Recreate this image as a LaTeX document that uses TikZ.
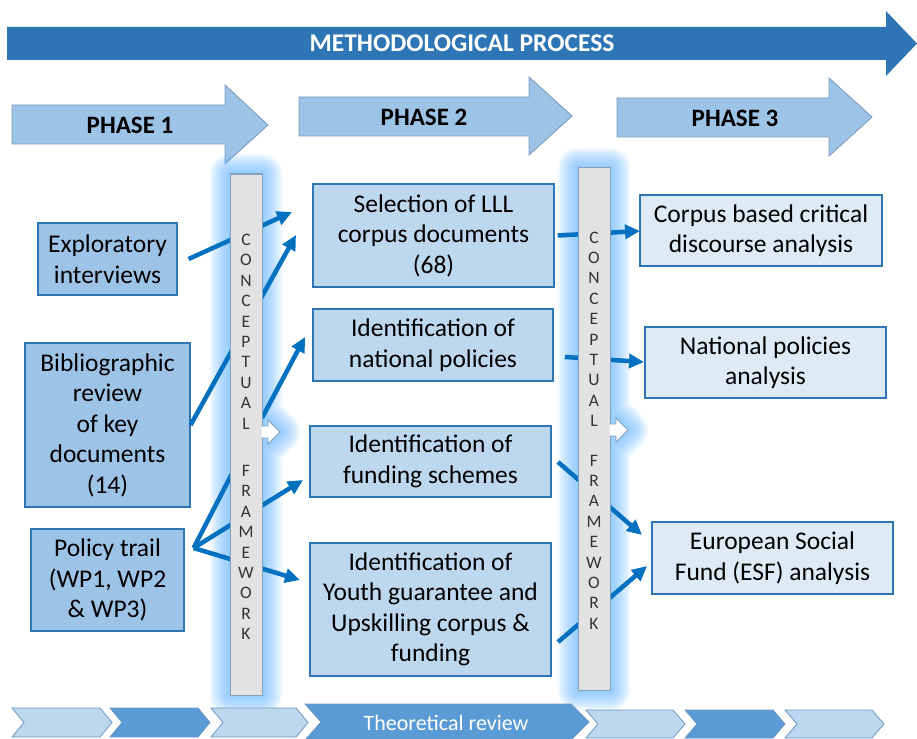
\documentclass[tikz,border=0pt]{standalone}
\usepackage{fontspec}
\setmainfont{Carlito}
\usetikzlibrary{arrows.meta}
\definecolor{topblue}{RGB}{46,117,182}
\definecolor{phasefill}{RGB}{157,195,230}
\definecolor{phaseline}{RGB}{125,156,192}
\definecolor{leftfill}{RGB}{157,195,230}
\definecolor{midfill}{RGB}{189,215,238}
\definecolor{rightfill}{RGB}{222,235,247}
\definecolor{boxline}{RGB}{46,117,182}
\definecolor{connblue}{RGB}{0,112,192}
\definecolor{barfill}{RGB}{226,226,226}
\definecolor{barline}{RGB}{130,160,190}
\definecolor{glowblue}{RGB}{100,180,255}
\definecolor{chevlight}{RGB}{189,215,238}
\definecolor{chevdark}{RGB}{91,155,213}
\definecolor{chevline}{RGB}{110,150,195}
\begin{document}
\begin{tikzpicture}[x=1pt,y=-1pt,
  boxbase/.style={draw=boxline,line width=1.2pt,align=center,inner sep=0pt,
    font=\fontsize{25.5}{30.5}\selectfont},
  leftbox/.style={boxbase,fill=leftfill},
  midbox/.style={boxbase,fill=midfill},
  rightbox/.style={boxbase,fill=rightfill},
  conn/.style={draw=connblue,line width=4.5pt,-{Triangle[length=15pt,width=14pt]}},
  connplain/.style={draw=connblue,line width=4.5pt},
  phasearrow/.style={fill=phasefill,draw=phaseline,line width=0.9pt},
  phasetext/.style={font=\fontsize{25}{28}\selectfont\bfseries,inner sep=0pt},
  barbox/.style={fill=barfill,draw=barline,line width=1pt,minimum width=32pt,inner sep=0pt},
  bartext/.style={font=\fontsize{17.5}{20.4}\selectfont,text=black!80,align=center,inner sep=0pt},
  smallarrow/.style={fill=white!95!barfill,draw=barline,line width=0.9pt},
  chevL/.style={fill=chevlight,draw=chevline,line width=0.8pt},
  chevD/.style={fill=chevdark,draw=chevline,line width=0.8pt},
  glow/.style={draw=glowblue,fill=glowblue,line join=round,opacity=0.1}
]
\useasboundingbox (0,0) rectangle (917,738);

% top arrow
\fill[topblue] (7,27) -- (886,27) -- (886,11) -- (917,43.5) -- (886,76) -- (886,60) -- (7,60) -- cycle;
\node[font=\fontsize{25.5}{27}\selectfont\bfseries,text=white,inner sep=0pt] (mp) at (462,43.5) {METHODOLOGICAL PROCESS};

% phase arrows
\draw[phasearrow] (12,105) -- (225,105) -- (225,85) -- (268,125) -- (225,164) -- (225,144) -- (12,144) -- cycle;
\node[phasetext] (ph1) at (130,125) {PHASE 1};
\draw[phasearrow] (299,97) -- (529,97) -- (529,77) -- (572,116) -- (529,155) -- (529,136) -- (299,136) -- cycle;
\node[phasetext] (ph2) at (424,117) {PHASE 2};
\draw[phasearrow] (617,98) -- (829,98) -- (829,78) -- (872,117) -- (829,156) -- (829,137) -- (617,137) -- cycle;
\node[phasetext] (ph3) at (735,118) {PHASE 3};

% glows
\foreach \w in {40,36,32,28,24,20,16,12,8,4}{
  \draw[glow,line width=\w pt] (230,174) -- (262,174) -- (262,426) -- (268,426) -- (268,420) -- (280,432) -- (268,444) -- (268,438) -- (262,438) -- (262,695) -- (230,695) -- cycle;
  \draw[glow,line width=\w pt] (578,168) -- (610,168) -- (610,424) -- (616,424) -- (616,418) -- (628,430) -- (616,442) -- (616,436) -- (610,436) -- (610,690) -- (578,690) -- cycle;
}

% boxes
\node[leftbox,minimum width=139pt,minimum height=72pt] (expl) at (107.5,259) {Exploratory\\interviews};
\node[leftbox,minimum width=165pt,minimum height=164pt] (bib) at (107.5,425) {Bibliographic\\review\\of key\\documents\\(14)};
\node[leftbox,minimum width=153pt,minimum height=102pt] (pol) at (107.5,580) {Policy trail\\(WP1, WP2\\\& WP3)};

\node[midbox,minimum width=241pt,minimum height=103pt] (sel) at (433.5,235.5) {Selection of LLL\\corpus documents\\(68)};
\node[midbox,minimum width=240pt,minimum height=72pt] (natid) at (433,345) {Identification of\\national policies};
\node[midbox,minimum width=241pt,minimum height=71pt] (fund) at (430.5,461.5) {Identification of\\funding schemes};
\node[midbox,minimum width=241pt,minimum height=133pt] (youth) at (430.5,609.5) {Identification of\\Youth guarantee and\\Upskilling corpus \&\\funding};

\node[rightbox,minimum width=242pt,minimum height=71pt] (corp) at (761,230.5) {Corpus based critical\\discourse analysis};
\node[rightbox,minimum width=241pt,minimum height=71pt] (natan) at (765.5,362.5) {National policies\\analysis};
\node[rightbox,minimum width=241pt,minimum height=72pt] (esf) at (772.5,558) {European Social\\Fund (ESF) analysis};

% bar centres
\path (246,434.5) coordinate (cf1c);
\path (594,429) coordinate (cf2c);

% connector coordinates
\coordinate (s1) at ([xshift=11pt]expl.east);
\coordinate (t1) at (292,212);
\coordinate (s2) at (bib.east);
\coordinate (t2) at (296,235);
\coordinate (s3) at (262,418);
\coordinate (t3) at (305,337);
\coordinate (pj) at ([xshift=9pt,yshift=32pt]pol.east);
\coordinate (t4) at (238,462);
\coordinate (t5) at (303,480);
\coordinate (t6) at (300,580);
\coordinate (u1) at ([xshift=3pt]sel.east);
\coordinate (v1) at (640,231);
\coordinate (u2) at (565,357);
\coordinate (v2) at (644,362);
\coordinate (u3) at (558,462);
\coordinate (v3) at (642,535);
\coordinate (u4) at (558,642);
\coordinate (v4) at (647,566);

\draw[conn] (s1) -- (t1);
\draw[conn] (s2) -- (t2);
\draw[conn] (s3) -- (t3);
\draw[connplain] (pj) -- (t4);
\draw[conn] (pj) -- (t5);
\draw[conn] (pj) -- (t6);
\draw[conn] (u1) -- (v1);
\draw[conn] (u2) -- (v2);
\draw[conn] (u3) -- (v3);
\draw[conn] (u4) -- (v4);

% conceptual framework bars
\node[barbox,minimum height=521pt] (cf1) at (cf1c) {};
\draw[smallarrow] (261.5,426) -- (268,426) -- (268,420) -- (280,432) -- (268,444) -- (268,438) -- (261.5,438);
\node[bartext] (cf1t) at (246,437) {C\\O\\N\\C\\E\\P\\T\\U\\A\\L\\[27pt]F\\R\\A\\M\\E\\W\\O\\R\\K};

\node[barbox,minimum height=522pt] (cf2) at (cf2c) {};
\draw[smallarrow] (609.5,424) -- (616,424) -- (616,418) -- (628,430) -- (616,442) -- (616,436) -- (609.5,436);
\node[bartext] (cf2t) at (594,430.5) {C\\O\\N\\C\\E\\P\\T\\U\\A\\L\\[19pt]F\\R\\A\\M\\E\\W\\O\\R\\K};

% bottom chevrons
\draw[chevL] (12,708) -- (100,708) -- (112,722.5) -- (100,737) -- (12,737) -- (24,722.5) -- cycle;
\draw[chevD] (110,708) -- (198,708) -- (210,722.5) -- (198,737) -- (110,737) -- (122,722.5) -- cycle;
\draw[chevL] (211,708) -- (296,708) -- (308,722.5) -- (296,737) -- (211,737) -- (223,722.5) -- cycle;
\draw[chevD] (305,704) -- (571,704) -- (589,722) -- (571,740) -- (305,740) -- (321,722) -- cycle;
\node[font=\fontsize{22}{26}\selectfont,text=white,inner sep=0pt] (theo) at (446,723) {Theoretical review};
\draw[chevL] (586,710) -- (673,710) -- (685,724) -- (673,738) -- (586,738) -- (598,724) -- cycle;
\draw[chevD] (685,710) -- (773,710) -- (785,724) -- (773,738) -- (685,738) -- (697,724) -- cycle;
\draw[chevL] (785,710) -- (872,710) -- (884,724) -- (872,738) -- (785,738) -- (797,724) -- cycle;
\end{tikzpicture}
\end{document}
